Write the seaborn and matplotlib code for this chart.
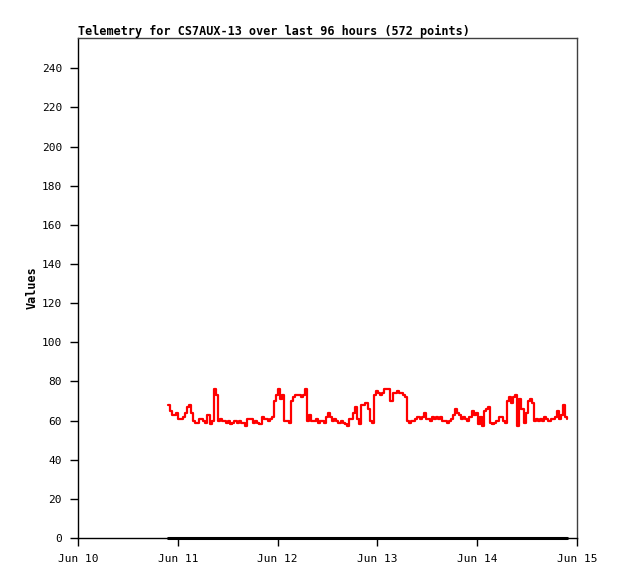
import matplotlib
matplotlib.use("Agg")
import matplotlib.pyplot as plt
import matplotlib.dates as mdates
import pandas as pd
import seaborn as sns

# Telemetry readings, one every 30 minutes
start_time = "2024-06-10 21:38"
values = [
    68, 65, 63, 63, 64, 61, 61, 62, 64, 67, 68, 64, 60, 59, 59, 61, 61, 60, 59, 63,
    58, 60, 76, 73, 60, 61, 60, 60, 59, 60, 58, 59, 60, 59, 60, 59, 59, 57, 61, 61,
    61, 59, 60, 59, 58, 62, 61, 61, 60, 61, 62, 70, 73, 76, 71, 73, 60, 60, 59, 70,
    72, 73, 73, 73, 72, 73, 76, 60, 63, 60, 60, 61, 59, 60, 60, 59, 62, 64, 62, 60,
    61, 60, 59, 60, 59, 58, 57, 61, 61, 64, 67, 61, 58, 68, 68, 69, 66, 60, 59, 73,
    75, 74, 73, 74, 76, 76, 76, 70, 74, 74, 75, 74, 74, 73, 72, 60, 59, 60, 60, 61,
    62, 61, 62, 64, 61, 61, 60, 62, 61, 62, 61, 62, 60, 60, 59, 60, 61, 63, 66, 64,
    63, 61, 62, 61, 60, 62, 65, 63, 64, 58, 62, 57, 65, 66, 67, 59, 58, 59, 60, 62,
    62, 60, 59, 70, 72, 69, 72, 73, 57, 71, 66, 59, 64, 70, 71, 69, 60, 61, 60, 61,
    60, 62, 61, 60, 61, 61, 62, 65, 61, 63, 68, 62, 61,
]
baseline = [0] * len(values)

title = "Telemetry for CS7AUX-13 over last 96 hours (572 points)"
y_label = "Values"
x_ticks = pd.date_range("2024-06-10", "2024-06-15", freq="D")

df = pd.DataFrame({
    "time": pd.date_range(start_time, periods=len(values), freq="30min"),
    "value": values,
    "zero": baseline,
})

sns.set_style("white")
plt.rcParams["font.family"] = ["DejaVu Sans Mono"]
plt.rcParams["text.color"] = "black"
plt.rcParams["axes.labelcolor"] = "black"

fig = plt.figure(figsize=(6.18, 5.79), dpi=100)
ax = fig.add_axes([0.1262, 0.0708, 0.8075, 0.8636])

sns.lineplot(data=df, x="time", y="zero", drawstyle="steps-post", color="black", linewidth=2.2, ax=ax)
sns.lineplot(data=df, x="time", y="value", drawstyle="steps-post", color="red", linewidth=1.6, ax=ax)
ax.lines[0].set_clip_on(False)

ax.set_xlim(x_ticks[0], x_ticks[-1])
ax.set_ylim(0, 255.5)
ax.set_yticks(range(0, 241, 20))
ax.set_xticks(x_ticks)
ax.xaxis.set_major_formatter(mdates.DateFormatter("%b %d"))
ax.tick_params(axis="both", direction="out", length=5.5, width=1, colors="black",
               labelsize=8, bottom=True, left=True)
ax.tick_params(axis="x", pad=6)
ax.tick_params(axis="y", pad=6)

ax.set_xlabel("")
ax.set_ylabel(y_label, fontsize=8.5, fontweight="bold", labelpad=2)
ax.set_title(title, fontsize=8.5, fontweight="bold", loc="left", pad=2)

for side in ["left", "bottom"]:
    ax.spines[side].set_color("black")
    ax.spines[side].set_linewidth(1)
for side in ["top", "right"]:
    ax.spines[side].set_color("#404040")
    ax.spines[side].set_linewidth(1)

fig.savefig("out.png", dpi=100)
